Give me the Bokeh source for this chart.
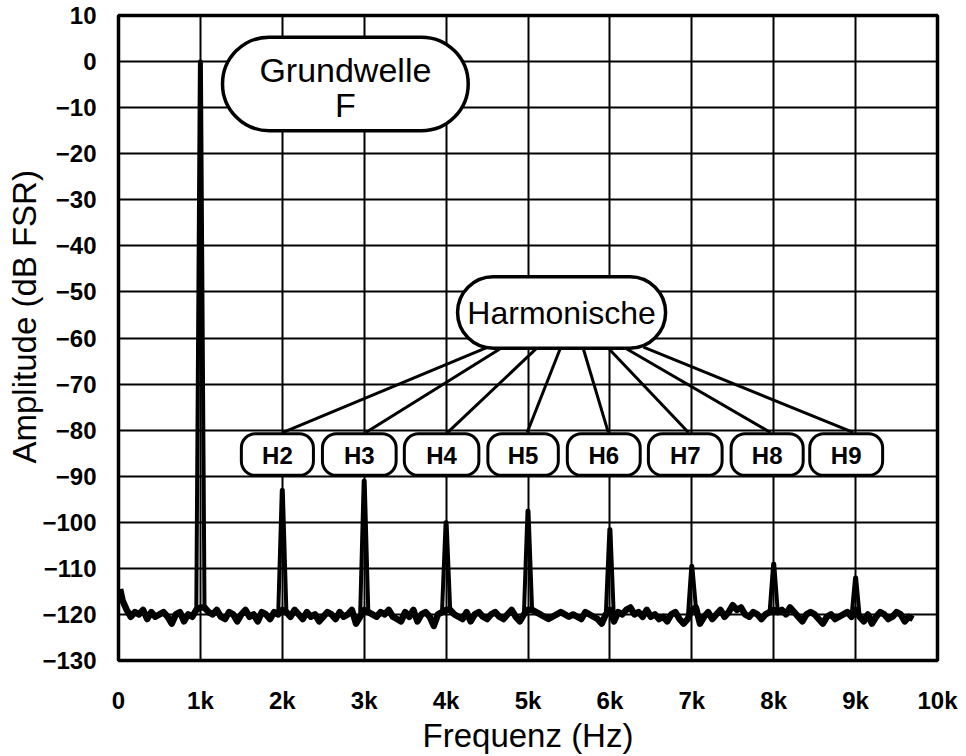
from bokeh.plotting import figure
from bokeh.models import FixedTicker, Range1d, Title
from bokeh.embed import file_html
from bokeh.resources import INLINE
from bokeh.core.properties import value

# ---------------- data ----------------
noise_freq = [20] + list(range(50, 9701, 50))
noise_db = [
    -114.5,
    -117.0, -119.0, -120.5, -119.5, -120.0, -119.0, -121.0, -119.5, -120.5, -120.0,
    -119.5, -120.5, -122.0, -120.0, -119.5, -121.5, -120.0, -120.5, -119.0, -118.5,
    -118.5, -119.5, -120.0, -119.0, -120.5, -121.0, -119.5, -120.0, -121.5, -120.0,
    -119.0, -120.5, -120.0, -121.5, -119.5, -120.0, -121.0, -119.5, -120.0, -119.0,
    -119.5, -120.5, -119.0, -120.0, -121.0, -119.5, -120.5, -120.0, -121.5, -120.5,
    -119.5, -120.0, -121.0, -119.5, -120.5, -120.0, -119.0, -122.0, -120.5, -119.0,
    -119.5, -120.0, -120.5, -119.5, -120.0, -119.0, -120.5, -121.0, -121.5, -119.5,
    -120.5, -119.0, -121.5, -120.0, -119.5, -120.5, -122.5, -120.0, -119.5, -119.0,
    -119.0, -120.0, -120.5, -121.0, -119.5, -121.5, -120.0, -119.5, -120.5, -121.0,
    -120.0, -119.5, -120.5, -121.0, -120.0, -119.0, -120.5, -121.5, -120.0, -119.0,
    -119.0, -119.5, -120.0, -120.5, -121.0, -120.5, -120.0, -119.5, -120.0, -120.5,
    -120.0, -120.5, -121.0, -119.5, -120.0, -120.5, -121.0, -122.0, -120.0, -119.0,
    -121.5, -119.5, -120.0, -119.0, -118.5, -120.0, -119.5, -120.5, -119.0, -120.5,
    -120.0, -121.0, -120.5, -121.5, -120.0, -119.5, -121.0, -122.0, -121.0, -119.0,
    -118.5, -122.0, -120.5, -119.5, -121.0, -120.0, -119.0, -120.5, -119.5, -118.0,
    -119.0, -118.5, -120.0, -120.5, -119.5, -120.0, -121.0, -120.0, -119.5, -119.0,
    -119.5, -119.0, -120.0, -118.5, -119.5, -120.5, -121.5, -120.0, -119.5, -120.0,
    -121.0, -122.0, -120.5, -120.0, -121.0, -120.5, -120.0, -119.5, -120.5, -119.0,
    -120.5, -121.5, -120.0, -122.0, -120.5, -119.5, -120.0, -121.0, -120.5, -119.5,
    -120.0, -121.5, -120.5, -121.0,
]

harm_freq = [1000, 2000, 3000, 4000, 5000, 6000, 7000, 8000, 9000]
harm_db = [0.0, -93.0, -91.0, -100.0, -97.5, -101.5, -109.5, -109.0, -112.0]
harm_labels = ["H2", "H3", "H4", "H5", "H6", "H7", "H8", "H9"]

x_ticks = [0, 1000, 2000, 3000, 4000, 5000, 6000, 7000, 8000, 9000, 10000]
x_tick_labels = ["0", "1k", "2k", "3k", "4k", "5k", "6k", "7k", "8k", "9k", "10k"]
y_ticks = [10, 0, -10, -20, -30, -40, -50, -60, -70, -80, -90, -100, -110, -120, -130]
y_tick_labels = ["10", "0", "\u221210", "\u221220", "\u221230", "\u221240", "\u221250",
                 "\u221260", "\u221270", "\u221280", "\u221290", "\u2212100",
                 "\u2212110", "\u2212120", "\u2212130"]

# ---------------- layout of annotations ----------------
h_box_left = [1500, 2490, 3490, 4510, 5480, 6470, 7480, 8440]
h_box_right = [2380, 3390, 4400, 5370, 6370, 7370, 8360, 9330]
h_box_top, h_box_bottom = -80.8, -89.8
h_line_start_x = [4510, 4690, 5120, 5400, 5670, 5970, 6170, 6410]
h_line_end_x = [2010, 3020, 4020, 4990, 5980, 6960, 7960, 8970]

FONT = "Liberation Sans"

# ---------------- spectrum line ----------------
pts = [(f, d) for f, d in zip(noise_freq, noise_db)
       if min(abs(f - h) for h in harm_freq) > 20]
for h, d in zip(harm_freq, harm_db):
    pts += [(h - 6, d), (h + 6, d)]
pts.sort()
spec_f = [p_[0] for p_ in pts]
spec_d = [p_[1] for p_ in pts]

p = figure(width=966, height=756,
           x_range=Range1d(0, 10000), y_range=Range1d(-130, 10),
           output_backend="svg", toolbar_location=None,
           min_border_left=118, min_border_right=29,
           min_border_top=15, min_border_bottom=91)

p.background_fill_color = "white"
p.border_fill_color = "white"
p.outline_line_color = "black"
p.outline_line_width = 3.5

for ax in (p.xaxis[0], p.yaxis[0]):
    ax.axis_line_color = None
    ax.major_tick_line_color = None
    ax.minor_tick_line_color = None
    ax.major_label_text_font = FONT
    ax.major_label_text_font_style = "bold"
    ax.major_label_text_font_size = "24px"
    ax.major_label_text_color = "black"
    ax.axis_label_text_font = FONT
    ax.axis_label_text_font_style = "normal"
    ax.axis_label_text_font_size = "33px"
    ax.axis_label_text_color = "black"

p.xaxis.ticker = FixedTicker(ticks=x_ticks)
p.yaxis.ticker = FixedTicker(ticks=y_ticks)
p.xaxis.major_label_overrides = dict(zip(x_ticks, x_tick_labels))
p.yaxis.major_label_overrides = dict(zip(y_ticks, y_tick_labels))
p.xaxis.axis_label = "Frequenz (Hz)"
p.xaxis.major_label_standoff = 20
p.yaxis.major_label_standoff = 16
p.xaxis.axis_label_standoff = 0

# y axis title as a left-side title (sits a little above the frame centre)
p.add_layout(Title(text="Amplitude (dB FSR)", align="left", offset=197,
                   text_font=FONT, text_font_size="33px", text_font_style="normal",
                   text_color="black", standoff=-7), "left")

for g in (p.xgrid[0], p.ygrid[0]):
    g.grid_line_color = "black"
    g.grid_line_width = 2
    g.grid_line_alpha = 1.0
p.xgrid.ticker = FixedTicker(ticks=x_ticks)
p.ygrid.ticker = FixedTicker(ticks=y_ticks)

# spectrum: full trace plus a thicker noise floor band
p.line(spec_f, spec_d, line_color="black", line_width=4, line_join="round")
p.line(noise_freq, noise_db, line_color="black", line_width=6.5, line_join="round")

# Grundwelle box
p.quad(left=[1270], right=[4270], top=[5.3], bottom=[-15.0],
       fill_color="white", line_color="black", line_width=3.5, border_radius=47)
p.text(x=[2770, 2770], y=[-1.8, -9.4], text=["Grundwelle", "F"],
       text_font=value(FONT), text_font_size="34px", text_color="black",
       text_align="center", text_baseline="middle")

# Harmonische box and connectors
p.segment(x0=h_line_start_x, y0=[-62.0] * 8, x1=h_line_end_x, y1=[-80.5] * 8,
          line_color="black", line_width=3)
p.quad(left=[4140], right=[6680], top=[-46.7], bottom=[-62.2],
       fill_color="white", line_color="black", line_width=3.5, border_radius=36)
p.text(x=[5410], y=[-54.5], text=["Harmonische"],
       text_font=value(FONT), text_font_size="32px", text_color="black",
       text_align="center", text_baseline="middle")

# H boxes
p.quad(left=h_box_left, right=h_box_right, top=[h_box_top] * 8, bottom=[h_box_bottom] * 8,
       fill_color="white", line_color="black", line_width=3, border_radius=14)
p.text(x=[(l + r) / 2 for l, r in zip(h_box_left, h_box_right)], y=[-85.4] * 8,
       text=harm_labels, text_font=value(FONT), text_font_style="bold",
       text_font_size="24px", text_color="black",
       text_align="center", text_baseline="middle")

open("out.html", "w").write(file_html(p, INLINE))
